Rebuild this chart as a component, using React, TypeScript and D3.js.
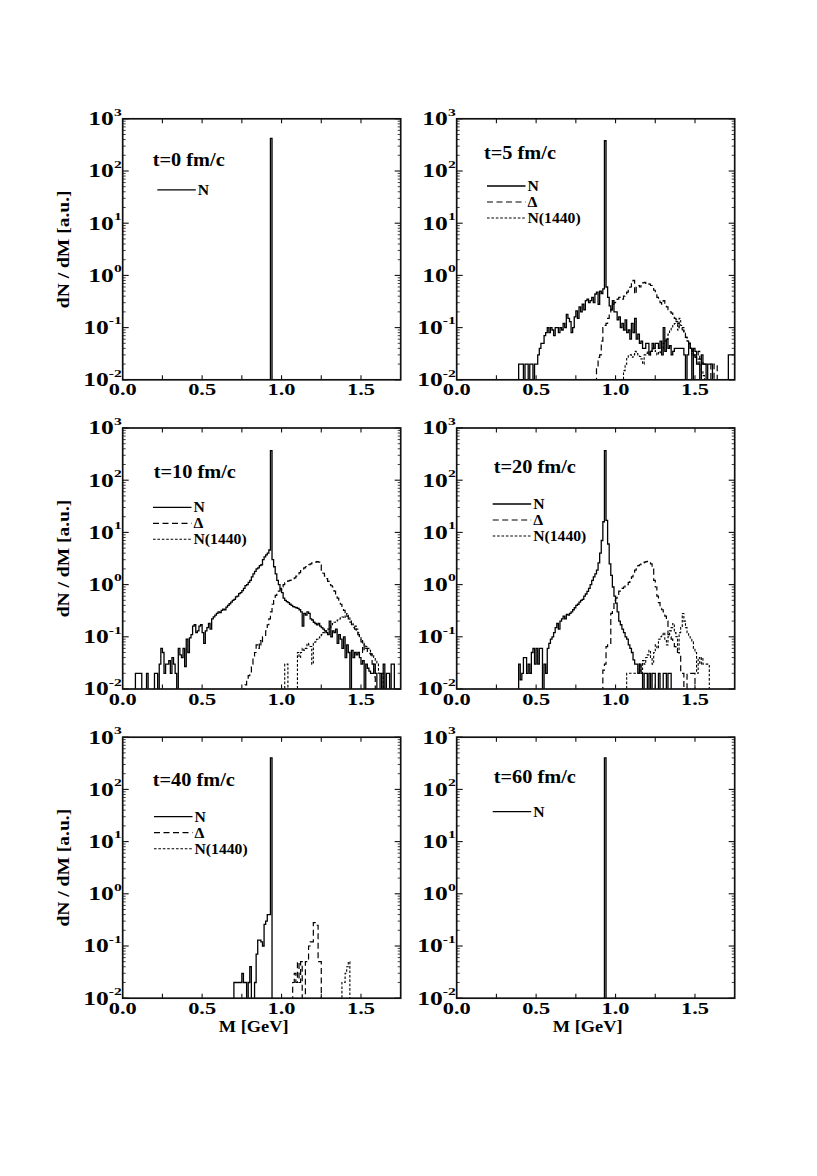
import React from 'react';
import * as d3 from 'd3';

// ---------------- data (bin width 0.01 GeV) ----------------
const BIN = 0.01;
const xTickValues = [0.25, 0.5, 0.75, 1.0, 1.25, 1.5];
const xTickLabels = [0.0, 0.5, 1.0, 1.5];
const yDecades = [-2, -1, 0, 1, 2, 3];
const seriesNames = ['N', 'Δ', 'N(1440)'];
const panelTitles = ['t=0 fm/c', 't=5 fm/c', 't=10 fm/c', 't=20 fm/c', 't=40 fm/c', 't=60 fm/c'];

const t0_N = { start: 0.93, values: [420] };

const t5_N = { start: 0.39, values: [
  0.02, 0.02, 0.02, 0, 0.02, 0.02, 0, 0.02, 0.02, 0, 0.02, 0.02, 0.03, 0.04, 0.05, 0.05, 0.07, 0.08, 0.1, 0.08,
  0.1, 0.09, 0.07, 0.1, 0.1, 0.08, 0.1, 0.09, 0.12, 0.1, 0.18, 0.15, 0.13, 0.08, 0.1, 0.16, 0.21, 0.15, 0.25, 0.2,
  0.28, 0.22, 0.33, 0.35, 0.3, 0.33, 0.38, 0.3, 0.44, 0.48, 0.28, 0.5, 0.45, 0.55, 380, 0.6, 0.38, 0.26, 0.22, 0.33,
  0.2, 0.2, 0.14, 0.16, 0.1, 0.12, 0.09, 0.14, 0.08, 0.09, 0.06, 0.12, 0.08, 0.15, 0.06, 0.075, 0.05, 0.055, 0.04, 0.04,
  0.05, 0.05, 0.03, 0.035, 0.05, 0.04, 0.05, 0.05, 0.04, 0.055, 0.03, 0.1, 0.035, 0.06, 0.04, 0.045, 0.03, 0.035, 0.04, 0.04,
  0.04, 0.04, 0.04, 0.04, 0.03, 0, 0.03, 0.05, 0.04, 0, 0.04, 0.035, 0.02, 0.02, 0, 0.03, 0.02, 0.02, 0, 0.02,
  0.02, 0.02, 0, 0, 0, 0, 0, 0, 0, 0, 0, 0, 0.03, 0.03, 0.03, 0.03,
] };
const t5_Delta = { start: 0.88, values: [
  0.017, 0.027, 0.03, 0.055, 0.1, 0.11, 0.12, 0.15, 0.18, 0.22, 0.28, 0.3, 0.33, 0.35, 0.38, 0.36, 0.35, 0.4, 0.44, 0.48,
  0.52, 0.6, 0.7, 0.8, 0.44, 0.6, 0.64, 0.6, 0.7, 0.72, 0.74, 0.7, 0.72, 0.68, 0.64, 0.58, 0.52, 0.45, 0.38, 0.34,
  0.3, 0.28, 0.33, 0.28, 0.25, 0.22, 0.2, 0.19, 0.18, 0.15, 0.14, 0.12, 0.1, 0.095, 0.09, 0.075, 0.065, 0.055, 0.05, 0.04,
  0.035, 0.03, 0.027, 0.03, 0.035, 0.025, 0.023, 0.02, 0.02, 0.02, 0.02, 0.02, 0, 0, 0.02, 0.02,
] };
const t5_N1440 = { start: 1.05, values: [
  0.015, 0.02, 0.027, 0.03, 0.03, 0.027, 0.03, 0.035, 0.032, 0.03, 0.028, 0.025, 0.02, 0.03, 0.032, 0.035, 0.03, 0.035, 0.04, 0.038,
  0.035, 0.03, 0.035, 0.033, 0.04, 0.05, 0.055, 0.06, 0.075, 0.09, 0.1, 0.11, 0.12, 0.13, 0.09, 0.15, 0.11, 0.1, 0.08, 0.065,
  0.055, 0.05, 0.04, 0.03, 0.03, 0.027, 0.02, 0.025, 0.02, 0.015, 0.012,
] };

const t10_N = { start: 0.08, values: [
  0.02, 0.02, 0.02, 0.02, 0, 0, 0, 0.02, 0, 0, 0, 0, 0.02, 0.02, 0, 0.03, 0.06, 0.05, 0.02, 0.03,
  0.03, 0.035, 0.02, 0.04, 0.03, 0.02, 0, 0.06, 0.045, 0.04, 0.06, 0.027, 0.09, 0.05, 0.095, 0.11, 0.16, 0.17, 0.12, 0.13,
  0.16, 0.17, 0.12, 0.075, 0.13, 0.15, 0.18, 0.14, 0.22, 0.24, 0.26, 0.28, 0.3, 0.29, 0.32, 0.34, 0.33, 0.37, 0.4, 0.43,
  0.46, 0.5, 0.52, 0.58, 0.6, 0.67, 0.7, 0.77, 0.85, 0.96, 1.0, 1.1, 1.2, 1.4, 1.6, 1.8, 2.0, 2.1, 2.3, 2.4,
  3.0, 3.4, 3.7, 4.0, 4.6, 370, 3.0, 2.2, 1.6, 1.2, 1.0, 0.85, 0.7, 0.55, 0.5, 0.47, 0.45, 0.42, 0.4, 0.38,
  0.37, 0.36, 0.35, 0.33, 0.3, 0.16, 0.28, 0.26, 0.3, 0.28, 0.22, 0.21, 0.19, 0.18, 0.17, 0.18, 0.16, 0.15, 0.14, 0.13,
  0.12, 0.11, 0.2, 0.1, 0.13, 0.12, 0.14, 0.075, 0.11, 0.09, 0.06, 0.1, 0.04, 0.07, 0.05, 0, 0.055, 0.04, 0.05, 0.045,
  0.05, 0.04, 0.03, 0.035, 0, 0.03, 0.025, 0.022, 0.02, 0.02, 0.03, 0.02, 0, 0, 0.02, 0, 0.03, 0, 0.02, 0.02,
  0, 0.03, 0.03,
] };
const t10_Delta = { start: 0.76, values: [
  0.01, 0.012, 0.015, 0.018, 0.02, 0.03, 0.04, 0.05, 0.07, 0.06, 0.085, 0.07, 0.1, 0.1, 0.13, 0.17, 0.22, 0.3, 0.42, 0.55,
  0.62, 0.69, 0.75, 0.8, 0.9, 1.0, 1.08, 1.15, 1.18, 1.2, 1.22, 1.25, 1.35, 1.45, 1.55, 1.7, 1.85, 2.0, 2.1, 2.2,
  2.3, 2.4, 2.5, 2.6, 2.65, 2.7, 2.75, 2.7, 2.4, 1.9, 1.65, 1.45, 1.3, 1.15, 1.0, 0.95, 0.9, 0.75, 0.62, 0.55,
  0.46, 0.42, 0.37, 0.32, 0.27, 0.25, 0.22, 0.19, 0.17, 0.15, 0.14, 0.12, 0.11, 0.095, 0.08, 0.05, 0.07, 0.06, 0.05, 0.048,
  0.045, 0.03, 0.017,
] };
const t10_N1440 = { start: 1.02, values: [
  0.03, 0.03, 0, 0, 0, 0, 0, 0, 0.05, 0.04, 0.05, 0.06, 0.055, 0.06, 0.075, 0.07, 0.065, 0.03, 0.075, 0.08,
  0.09, 0.095, 0.1, 0.11, 0.12, 0.125, 0.13, 0.14, 0.15, 0.16, 0.18, 0.19, 0.2, 0.21, 0.22, 0.23, 0.24, 0.23, 0.25, 0.28,
  0.23, 0.2, 0.18, 0.17, 0.16, 0.14, 0.12, 0.1, 0.09, 0.08, 0.07, 0.065, 0.06, 0.055, 0.048, 0.045, 0.04, 0.035, 0.03, 0.02,
  0.02, 0.02,
] };

const t20_N = { start: 0.39, values: [
  0.03, 0.015, 0.02, 0.04, 0.04, 0.02, 0.03, 0.02, 0.05, 0.06, 0.03, 0.06, 0.03, 0.06, 0.06, 0, 0.03, 0.02, 0.06, 0.075,
  0.09, 0.1, 0.12, 0.15, 0.18, 0.14, 0.2, 0.22, 0.25, 0.22, 0.27, 0.26, 0.28, 0.3, 0.33, 0.36, 0.4, 0.42, 0.46, 0.5,
  0.52, 0.6, 0.66, 0.74, 0.85, 1.0, 1.2, 1.4, 1.6, 1.9, 2.6, 4.0, 7.0, 16, 370, 17, 6, 2.5, 1.5, 0.9,
  0.6, 0.44, 0.3, 0.2, 0.17, 0.14, 0.12, 0.1, 0.09, 0.07, 0.06, 0.05, 0.036, 0.03, 0.03, 0.02, 0.03, 0.02, 0, 0.02,
  0.02, 0, 0.02, 0, 0.02, 0.02, 0, 0, 0.02, 0, 0, 0.02, 0.02, 0, 0.02, 0.02,
] };
const t20_Delta = { start: 0.92, values: [
  0.023, 0.03, 0.065, 0.07, 0.075, 0.28, 0.35, 0.5, 0.55, 0.65, 0.75, 0.8, 0.85, 0.9, 0.95, 1.0, 1.1, 1.2, 1.4, 1.6,
  1.9, 2.1, 2.3, 2.4, 2.5, 2.6, 2.7, 2.75, 2.8, 2.6, 2.5, 2.0, 1.2, 0.9, 0.6, 0.45, 0.35, 0.33, 0.3, 0.25,
  0.2, 0.11, 0.1, 0.09, 0.08, 0.065, 0.06, 0.05, 0.045, 0.02, 0.02, 0, 0, 0.02, 0.02, 0.02, 0.02, 0.02,
] };
const t20_N1440 = { start: 1.07, values: [
  0.02, 0.02, 0.02, 0.02, 0.02, 0.02, 0.02, 0.02, 0.03, 0.02, 0.035, 0.03, 0.04, 0.045, 0.055, 0.04, 0.03, 0.05, 0.07, 0.06,
  0.09, 0.1, 0.11, 0.12, 0.09, 0.07, 0.1, 0.13, 0.15, 0.18, 0.12, 0.1, 0.05, 0.12, 0.15, 0.28, 0.2, 0.15, 0.12, 0.1,
  0.09, 0.08, 0.06, 0.05, 0.02, 0.04, 0.03, 0.04, 0.03, 0.03, 0.03, 0.03,
] };

const t40_N = { start: 0.70, values: [
  0.02, 0.02, 0.02, 0.02, 0.02, 0.03, 0.02, 0.02, 0, 0.02, 0.04, 0, 0, 0.02, 0.07, 0.13, 0.13, 0.12, 0.1, 0.26,
  0.3, 0.4, 0.4, 400,
] };
const t40_Delta = { start: 1.07, values: [
  0.02, 0.03, 0.02, 0.05, 0.02, 0.05, 0, 0, 0.05, 0.05, 0.1, 0.12, 0.12, 0.28, 0.28, 0.25, 0.05, 0.05,
] };
const t40_N1440 = { start: 1.38, values: [0.02, 0.02, 0.03, 0.04, 0.05] };

const t60_N = { start: 0.93, values: [400] };

// ---------------- layout ----------------
const FONT = '"Liberation Serif", "Times New Roman", Times, serif';
const COL_X = [122.7, 456.7];
const PANEL_W = 278;
const ROW_Y = [118.8, 428, 737.2];
const PANEL_H = 261;

const styles = [
  { width: 1.3, dash: null as string | null },
  { width: 1.2, dash: '6 3.5' },
  { width: 1.1, dash: '2.6 1.8' },
];

const panels = [
  { col: 0, row: 0, title: panelTitles[0], series: [t0_N], titleDx: 30, titleDy: 47, legDx: 34.6, legDy: 71 },
  { col: 1, row: 0, title: panelTitles[1], series: [t5_N, t5_Delta, t5_N1440], titleDx: 27.3, titleDy: 40.5, legDx: 30.3, legDy: 67.2 },
  { col: 0, row: 1, title: panelTitles[2], series: [t10_N, t10_Delta, t10_N1440], titleDx: 31, titleDy: 49.7, legDx: 30.3, legDy: 79.3 },
  { col: 1, row: 1, title: panelTitles[3], series: [t20_N, t20_Delta, t20_N1440], titleDx: 37, titleDy: 44.7, legDx: 36, legDy: 76 },
  { col: 0, row: 2, title: panelTitles[4], series: [t40_N, t40_Delta, t40_N1440], titleDx: 30, titleDy: 48.8, legDx: 31.3, legDy: 79.5 },
  { col: 1, row: 2, title: panelTitles[5], series: [t60_N], titleDx: 37, titleDy: 45.5, legDx: 36, legDy: 74.5 },
];

type Series = { start: number; values: number[] };

function stepPoints(s: Series): [number, number][] {
  const pts: [number, number][] = [[s.start, 0]];
  s.values.forEach((v, i) => {
    const a = s.start + i * BIN;
    pts.push([a, v]);
    pts.push([a + BIN, v]);
  });
  pts.push([s.start + s.values.length * BIN, 0]);
  return pts;
}

function Panel({ p, idx }: { p: (typeof panels)[number]; idx: number }) {
  const x0 = COL_X[p.col];
  const x1 = x0 + PANEL_W;
  const y0 = ROW_Y[p.row];
  const y1 = y0 + PANEL_H;
  const xs = d3.scaleLinear().domain([0, 1.75]).range([x0, x1]);
  const ys = d3.scaleLog().domain([0.01, 1000]).range([y1, y0]);
  const line = d3
    .line<[number, number]>()
    .x((d) => xs(d[0]))
    .y((d) => (d[1] > 0 ? ys(d[1]) : y1 + 4));

  const majorY = yDecades.map((d) => Math.pow(10, d));
  const minorY: number[] = [];
  yDecades.slice(0, -1).forEach((d) => {
    for (let k = 2; k <= 9; k++) minorY.push(k * Math.pow(10, d));
  });

  const clipId = `clip${idx}`;
  const legX = x0 + p.legDx;
  const legLen = 38.5;

  return (
    <g>
      <defs>
        <clipPath id={clipId}>
          <rect x={x0} y={y0} width={PANEL_W} height={PANEL_H} />
        </clipPath>
      </defs>
      <g clipPath={`url(#${clipId})`}>
        {p.series.map((s, i) => (
          <path
            key={i}
            d={line(stepPoints(s)) || ''}
            fill="none"
            stroke="#000"
            strokeWidth={styles[i].width}
            strokeDasharray={styles[i].dash || undefined}
          />
        ))}
      </g>
      {/* frame */}
      <rect x={x0} y={y0} width={PANEL_W} height={PANEL_H} fill="none" stroke="#111" strokeWidth={1.7} />
      {/* x ticks */}
      {xTickValues.map((v) => (
        <g key={`xt${v}`}>
          <line x1={xs(v)} x2={xs(v)} y1={y1} y2={y1 - 4.5} stroke="#111" strokeWidth={1.1} />
          <line x1={xs(v)} x2={xs(v)} y1={y0} y2={y0 + 4.5} stroke="#111" strokeWidth={1.1} />
        </g>
      ))}
      {/* y ticks */}
      {majorY.map((v) => (
        <g key={`ym${v}`}>
          <line x1={x0} x2={x0 + 6} y1={ys(v)} y2={ys(v)} stroke="#111" strokeWidth={1.1} />
          <line x1={x1} x2={x1 - 6} y1={ys(v)} y2={ys(v)} stroke="#111" strokeWidth={1.1} />
        </g>
      ))}
      {minorY.map((v) => (
        <g key={`yn${v}`}>
          <line x1={x0} x2={x0 + 3} y1={ys(v)} y2={ys(v)} stroke="#111" strokeWidth={0.8} />
          <line x1={x1} x2={x1 - 3} y1={ys(v)} y2={ys(v)} stroke="#111" strokeWidth={0.8} />
        </g>
      ))}
      {/* x tick labels */}
      {xTickLabels.map((v) => (
        <text
          key={`xl${v}`}
          transform={`translate(${xs(v)},${y1 + 15.5}) scale(1.28,1)`}
          textAnchor="middle"
          fontSize={17.5}
          fontWeight="bold"
          fontFamily={FONT}
        >
          {v.toFixed(1)}
        </text>
      ))}
      {/* y tick labels */}
      {yDecades.map((d) => (
        <text
          key={`yl${d}`}
          transform={`translate(${x0 - 1},${ys(Math.pow(10, d)) + 6.3}) scale(1.42,1)`}
          textAnchor="end"
          fontSize={18}
          fontWeight="bold"
          fontFamily={FONT}
        >
          10
          <tspan dy={-9.5} fontSize={11}>
            {d}
          </tspan>
        </text>
      ))}
      {/* title */}
      <text
        transform={`translate(${x0 + p.titleDx},${y0 + p.titleDy}) scale(1.13,1)`}
        fontSize={18}
        fontWeight="bold"
        fontFamily={FONT}
      >
        {p.title}
      </text>
      {/* legend */}
      {p.series.map((s, i) => {
        const ly = y0 + p.legDy + i * 16;
        return (
          <g key={`lg${i}`}>
            <line
              x1={legX}
              x2={legX + legLen}
              y1={ly}
              y2={ly}
              stroke="#000"
              strokeWidth={styles[i].width}
              strokeDasharray={styles[i].dash || undefined}
            />
            <text
              transform={`translate(${legX + legLen + 2},${ly + 5}) scale(1.12,1)`}
              fontSize={14}
              fontWeight="bold"
              fontFamily={FONT}
            >
              {seriesNames[i]}
            </text>
          </g>
        );
      })}
      {/* axis titles */}
      {p.col === 0 && (
        <text
          transform={`translate(68.5,${(y0 + y1) / 2}) rotate(-90) scale(1.15,1)`}
          textAnchor="middle"
          fontSize={17}
          fontWeight="bold"
          fontFamily={FONT}
        >
          dN / dM [a.u.]
        </text>
      )}
      {p.row === 2 && (
        <text
          transform={`translate(${(x0 + x1) / 2 - 8},${y1 + 34}) scale(1.08,1)`}
          textAnchor="middle"
          fontSize={17}
          fontWeight="bold"
          fontFamily={FONT}
        >
          M [GeV]
        </text>
      )}
    </g>
  );
}

export default function App() {
  return (
    <svg
      width={817}
      height={1176}
      style={{ position: 'absolute', left: 0, top: 0, background: '#fff' }}
    >
      <rect x={0} y={0} width={817} height={1176} fill="#fff" />
      {panels.map((p, i) => (
        <Panel key={i} p={p} idx={i} />
      ))}
    </svg>
  );
}
